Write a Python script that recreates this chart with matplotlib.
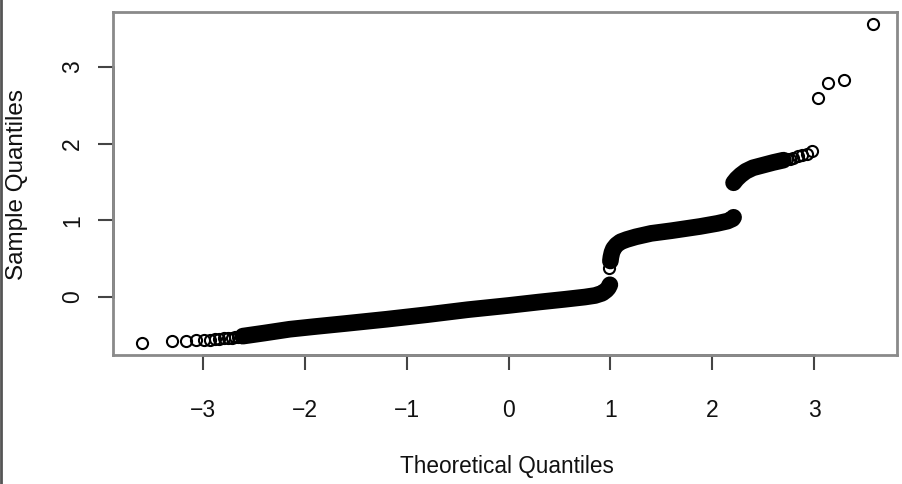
import matplotlib
matplotlib.use('Agg')
from matplotlib import pyplot as plt
from matplotlib.lines import Line2D

plt.rcParams['font.family'] = ['Liberation Sans', 'DejaVu Sans']

# theoretical vs sample quantiles
lower_tail_x = [-3.60, -3.31, -3.17, -3.07, -2.99, -2.93, -2.88, -2.84, -2.79, -2.76, -2.72, -2.69, -2.66, -2.63]
lower_tail_y = [-0.60, -0.575, -0.57, -0.565, -0.56, -0.555, -0.55, -0.545, -0.54, -0.535, -0.53, -0.525, -0.52, -0.515]

lower_band_x = [-2.61, -2.4, -2.15, -1.9, -1.6, -1.2, -0.8, -0.4, 0.0, 0.3, 0.55, 0.75, 0.85, 0.92, 0.96, 0.98, 0.995]
lower_band_y = [-0.51, -0.47, -0.42, -0.385, -0.345, -0.29, -0.23, -0.165, -0.11, -0.065, -0.03, 0.0, 0.02, 0.05, 0.09, 0.12, 0.16]

jump_x = [0.99]
jump_y = [0.38]

middle_band_x = [1.0, 1.005, 1.015, 1.03, 1.06, 1.1, 1.16, 1.25, 1.4, 1.6, 1.88, 2.05, 2.15, 2.2, 2.21]
middle_band_y = [0.47, 0.52, 0.58, 0.63, 0.68, 0.72, 0.75, 0.785, 0.83, 0.865, 0.92, 0.96, 0.99, 1.02, 1.04]

upper_band_x = [2.21, 2.24, 2.28, 2.33, 2.4, 2.5, 2.6, 2.7]
upper_band_y = [1.49, 1.54, 1.59, 1.64, 1.685, 1.72, 1.755, 1.785]

upper_tail_x = [2.73, 2.76, 2.79, 2.84, 2.88, 2.93, 2.98]
upper_tail_y = [1.795, 1.805, 1.815, 1.835, 1.85, 1.87, 1.90]

outlier_x = [3.04, 3.14, 3.29, 3.58]
outlier_y = [2.60, 2.79, 2.83, 3.56]

x_ticks = [-3, -2, -1, 0, 1, 2, 3]
y_ticks = [0, 1, 2, 3]

W, H = 903, 484
fig = plt.figure(figsize=(W / 100, H / 100), dpi=100)
ax = fig.add_axes([113 / W, 1 - 355 / H, (897 - 113) / W, (355 - 12) / H])

point_style = dict(linestyle='none', marker='o', markersize=8, markerfacecolor='none',
                   markeredgecolor='black', markeredgewidth=1.5)

for xs, ys in [(lower_tail_x, lower_tail_y), (lower_band_x, lower_band_y), (jump_x, jump_y),
               (middle_band_x, middle_band_y), (upper_band_x, upper_band_y),
               (upper_tail_x, upper_tail_y), (outlier_x, outlier_y)]:
    ax.plot(xs, ys, **point_style)

# dense parts of the sample: thousands of overlapping circles make a solid band
for xs, ys in [(lower_band_x, lower_band_y), (middle_band_x, middle_band_y),
               (upper_band_x, upper_band_y)]:
    ax.plot(xs, ys, color='black', linewidth=12, solid_capstyle='round',
            solid_joinstyle='round')

ax.set_xlim(-3.885, 3.815)
ax.set_ylim(-0.756, 3.717)

for side in ['top', 'bottom', 'left', 'right']:
    ax.spines[side].set_color('#8a8a8a')
    ax.spines[side].set_linewidth(2)

# R style axis lines between first and last tick
ax.plot(x_ticks[::len(x_ticks) - 1], [-0.756, -0.756], color='#444444', lw=1.8, clip_on=False)
ax.plot([-3.885, -3.885], y_ticks[::len(y_ticks) - 1], color='#444444', lw=1.8, clip_on=False)

ax.set_xticks(x_ticks)
ax.set_xticklabels(['\u2212' + str(-t) if t < 0 else str(t) for t in x_ticks])
ax.set_yticks(y_ticks)
ax.set_yticklabels([str(t) for t in y_ticks], rotation=90, va='center')
ax.tick_params(axis='both', direction='out', length=11, width=1.5, color='#444444',
               labelsize=16.5, labelcolor='#111111')
ax.tick_params(axis='x', pad=21)
ax.tick_params(axis='y', pad=10)

fig.text(507 / W, 1 - 467 / H, 'Theoretical Quantiles', ha='center', va='center',
         fontsize=16.3, color='#111111')
fig.text(17 / W, 1 - 184 / H, 'Sample Quantiles', ha='center', va='center',
         rotation=90, fontsize=17.5, color='#111111')

# dark edge on the left of the screenshot
fig.add_artist(Line2D([0.0015, 0.0015], [0, 1], color='#555555', lw=2))

fig.savefig('out.png', dpi=100)
